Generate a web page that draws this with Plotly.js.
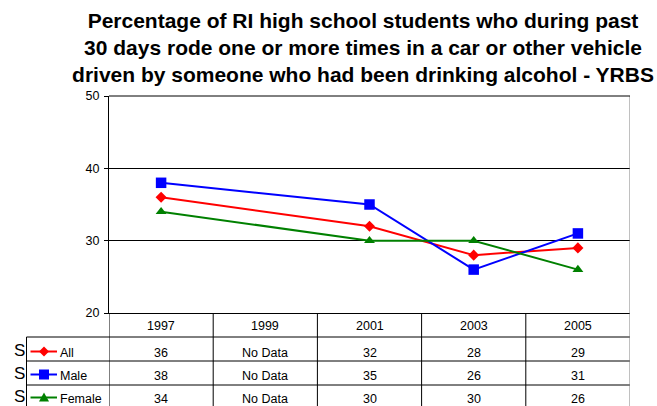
<!DOCTYPE html>
<html>
<head>
<meta charset="utf-8">
<script src="https://cdn.plot.ly/plotly-3.0.1.min.js"></script>
<style>html,body{margin:0;padding:0;background:#fff;}#chart{width:657px;height:406px;}</style>
</head>
<body>
<div id="chart"></div>
<script>
const titleText = 'Percentage of RI high school students who during past<br>30 days rode one or more times in a car or other vehicle<br>driven by someone who had been drinking alcohol - YRBS';
const categories = ['1997', '1999', '2001', '2003', '2005'];
const seriesNames = ['All', 'Male', 'Female'];
const allValues = [36, null, 32, 28, 29];
const maleValues = [38, null, 35, 26, 31];
const femaleValues = [34, null, 30, 30, 26];
const yTickValues = [20, 30, 40, 50];
const missingLabel = 'No Data';
const rowPrefix = 'S';

const seriesValues = [allValues, maleValues, femaleValues];
const colors = ['#FF0000', '#0000FF', '#008000'];
const symbols = ['diamond', 'square', 'triangle-up'];
const sizes = [8.5, 10.5, 9.5];

const W = 657, H = 406, L = 109, R = 630, T = 96, B = 313;
const px = x => (x - L) / (R - L);
const py = y => (B - y) / (B - T);
const FONT = 'Liberation Sans, Arial, sans-serif';
const TFS = 12.5;

const traces = seriesNames.map((name, i) => ({
  type: 'scatter', mode: 'lines+markers', name: name,
  x: categories, y: seriesValues[i], connectgaps: true, cliponaxis: false,
  line: {color: colors[i], width: 2},
  marker: {color: colors[i], symbol: symbols[i], size: sizes[i]},
  showlegend: false, hoverinfo: 'skip'
}));

const shapes = [];
const annotations = [];
const lineC = '#000000';
// table horizontal lines
const rowLines = [337, 361, 385];
rowLines.forEach(y => shapes.push({type: 'line', xref: 'paper', yref: 'paper', x0: px(26.5), x1: px(R), y0: py(y), y1: py(y), line: {color: lineC, width: 1}}));
// legend column left border
shapes.push({type: 'line', xref: 'paper', yref: 'paper', x0: px(26.5), x1: px(26.5), y0: py(337), y1: py(H + 5), line: {color: lineC, width: 1}});
// vertical column dividers
for (let k = 0; k <= categories.length; k++) {
  shapes.push({type: 'line', xref: 'x', yref: 'paper', x0: k - 0.5, x1: k - 0.5, y0: py(k === categories.length ? T : B), y1: py(H + 5), line: {color: k === categories.length ? '#808080' : lineC, width: 1}});
}
// top border
shapes.push({type: 'line', xref: 'paper', yref: 'paper', x0: 0, x1: 1, y0: 1, y1: 1, line: {color: lineC, width: 1}});

const cellFont = {family: FONT, size: TFS, color: '#000'};
// header row: years
categories.forEach((c, j) => annotations.push({x: j, xref: 'x', xanchor: 'center', y: py(325.5), yref: 'paper', yanchor: 'middle', text: c, showarrow: false, font: cellFont}));
// data rows
const rowCenters = [352.5, 375.5, 398.5];
seriesNames.forEach((name, i) => {
  const yc = rowCenters[i];
  seriesValues[i].forEach((v, j) => {
    annotations.push({x: j, xref: 'x', xanchor: 'center', y: py(yc), yref: 'paper', yanchor: 'middle', text: v === null ? missingLabel : String(v), showarrow: false, font: cellFont});
  });
  // legend label
  annotations.push({x: px(58), xref: 'paper', xanchor: 'left', y: py(yc), yref: 'paper', yanchor: 'middle', text: name, showarrow: false, font: cellFont});
  annotations.push({x: px(27), xref: 'paper', xanchor: 'right', y: py(yc - 2), yref: 'paper', yanchor: 'middle', text: rowPrefix, showarrow: false, font: {family: FONT, size: 17, color: '#000'}});
  // legend swatch line
  const ly = rowCenters[i] - 1;
  shapes.push({type: 'line', xref: 'paper', yref: 'paper', x0: px(30.5), x1: px(57), y0: py(ly), y1: py(ly), line: {color: colors[i], width: 2}});
  const cx = 44, r = 5;
  let path;
  if (symbols[i] === 'diamond') {
    path = `M${px(cx - r)},${py(ly)} L${px(cx)},${py(ly - r)} L${px(cx + r)},${py(ly)} L${px(cx)},${py(ly + r)} Z`;
  } else if (symbols[i] === 'square') {
    path = `M${px(cx - r)},${py(ly - r)} L${px(cx + r)},${py(ly - r)} L${px(cx + r)},${py(ly + r)} L${px(cx - r)},${py(ly + r)} Z`;
  } else {
    path = `M${px(cx - r)},${py(ly + 4)} L${px(cx)},${py(ly - 5)} L${px(cx + r)},${py(ly + 4)} Z`;
  }
  shapes.push({type: 'path', xref: 'paper', yref: 'paper', path: path, fillcolor: colors[i], line: {width: 0}});
});

const layout = {
  width: W, height: H,
  margin: {l: L, r: W - R, t: T, b: H - B, pad: 0},
  paper_bgcolor: '#ffffff', plot_bgcolor: '#ffffff',
  font: {family: FONT, color: '#000'},
  title: {text: titleText, font: {family: FONT, size: 21, color: '#000', weight: 'bold'},
          x: 363 / W, xanchor: 'center', xref: 'container', y: 1 - 27.5 / H, yanchor: 'middle', yref: 'container'},
  xaxis: {type: 'category', range: [-0.5, categories.length - 0.5], showticklabels: false, ticks: '',
          showgrid: false, zeroline: false, showline: true, linecolor: '#000', linewidth: 1, fixedrange: true},
  yaxis: {range: [20, 50], tickvals: yTickValues, ticks: 'outside', ticklen: 4, tickcolor: '#000',
          tickfont: {family: FONT, size: TFS, color: '#000'}, ticklabelstandoff: 2, showgrid: true, gridcolor: '#000', gridwidth: 1,
          zeroline: false, showline: true, linecolor: '#000', linewidth: 1, fixedrange: true},
  shapes: shapes, annotations: annotations, showlegend: false
};
Plotly.newPlot('chart', traces, layout, {displayModeBar: false, staticPlot: true});
</script>
</body>
</html>
